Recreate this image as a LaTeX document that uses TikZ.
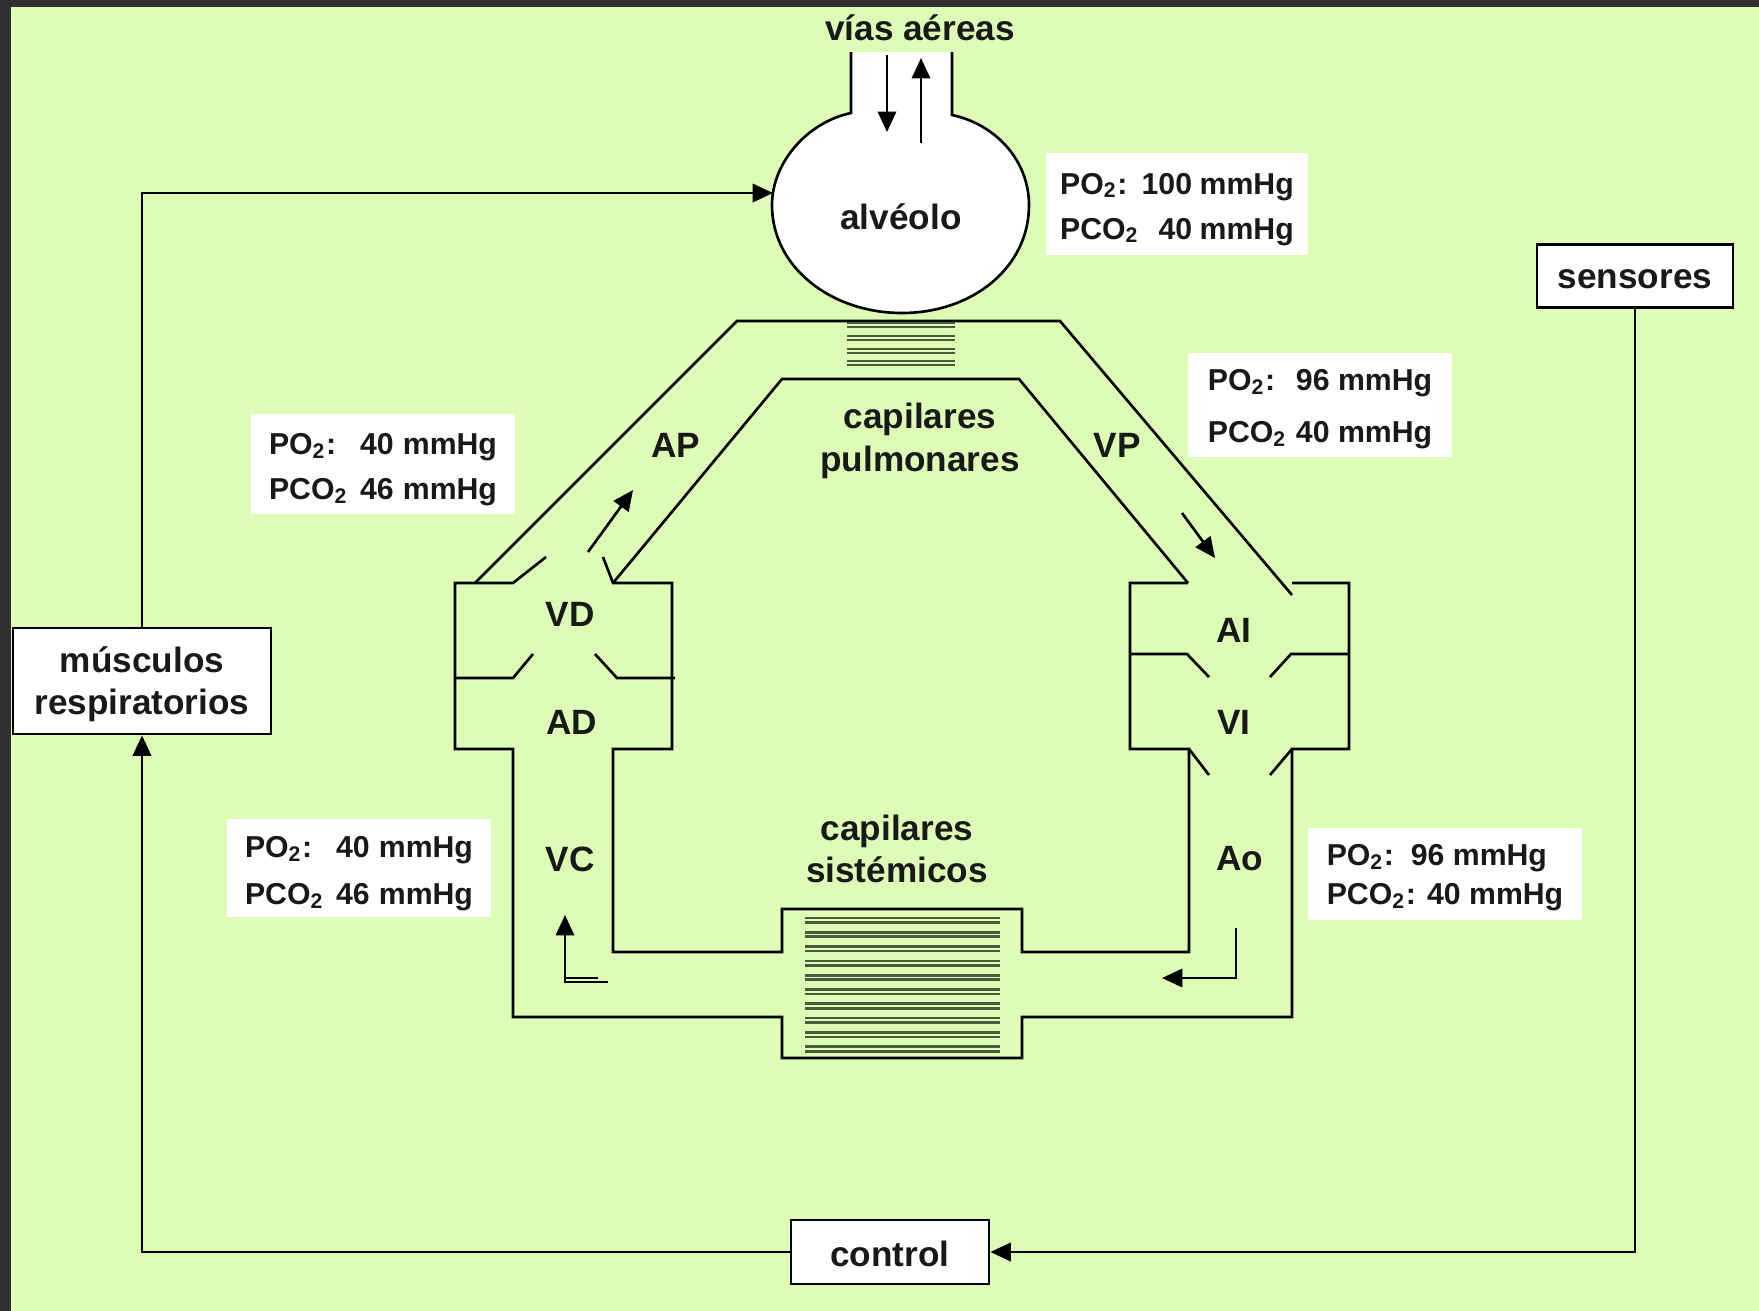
\documentclass[tikz,border=0pt]{standalone}
\usepackage{fontspec}
\setmainfont{Liberation Sans}
\usetikzlibrary{arrows.meta,shapes.geometric}
\definecolor{bg}{RGB}{221,253,183}
\definecolor{frame}{RGB}{48,48,48}
\definecolor{capline}{RGB}{75,90,58}
\begin{document}
\begin{tikzpicture}[x=0.01cm,y=-0.01cm,line width=0.75pt,
  big/.style={font=\fontsize{10}{12}\selectfont\bfseries, inner sep=0pt, text=black!90},
  box/.style={draw, fill=white, inner sep=0pt},
  boxtxt/.style={font=\fontsize{10}{12}\selectfont\bfseries, align=center, inner sep=0pt, text=black!90},
  infobox/.style={fill=white, inner sep=0pt},
  info/.style={font=\fontsize{8.6}{12.8}\selectfont\bfseries, inner sep=0pt, align=left, text=black!90},
  arr/.style={-{Triangle[length=5.8pt,width=5.2pt]}},
  capl/.style={draw=capline, line width=0.75pt},
]
% background and frame
\fill[frame] (0,0) rectangle (1759,1311);
\fill[bg] (11,7) rectangle (1759,1311);
\useasboundingbox (0,0) rectangle (1759,1311);

% control loop boxes
\node[box, minimum width=1.96cm, minimum height=0.63cm] (sens) at (1635,276) {};
\node[boxtxt] (senst) at ([yshift=-0.035cm]sens.center) {sensores};
\node[box, minimum width=1.98cm, minimum height=0.64cm] (ctrl) at (890,1252) {};
\node[boxtxt] (ctrlt) at ([yshift=-0.02cm]ctrl.center) {control};
\node[box, minimum width=2.58cm, minimum height=1.06cm] (musc) at (142,681) {};
\node[boxtxt] (musct) at ([yshift=-0.035cm]musc.center) {músculos\\respiratorios};

% alveolus
\draw[fill=white] (851,52) -- (851,113) .. controls (808,122) and (772,162) .. (772,205)
  .. controls (772,268) and (832,313) .. (902,313)
  .. controls (972,313) and (1029,268) .. (1029,205)
  .. controls (1029,160) and (995,124) .. (952,115) -- (952,52);
\coordinate (alvw) at (773,193);
\node[big] (alvtxt) at (901,217) {alvéolo};
\node[big] (vias) at (920,28) {vías aéreas};
\draw[arr] (887,55) -- (887,132);
\draw[arr] (921,143) -- (921,58);

% loop connectors
\draw[arr] (musc.north) |- (alvw);
\draw[arr] (sens.south) |- (ctrl.east);
\draw[arr] (ctrl.west) -| (musc.south);

% pulmonary circulation
\draw (475,583) -- (737,321) -- (1060,321) -- (1292,595);
\draw (613,583) -- (782,379) -- (1019,379) -- (1188,583);
\foreach \yy in {323,336,349,361} {
  \draw[capl] (847,\yy) -- (955,\yy);
  \draw[capl] (847,\yy+4) -- (955,\yy+4);
}

% heart and systemic circulation
\draw (546,557) -- (513,583) -- (455,583) -- (455,749) -- (513,749) -- (513,1017)
  -- (782,1017) -- (782,1058) -- (1022,1058) -- (1022,1017) -- (1292,1017)
  -- (1292,749) -- (1349,749) -- (1349,583) -- (1292,583);
\draw (603,557) -- (613,583) -- (672,583) -- (672,749) -- (613,749) -- (613,952)
  -- (782,952) -- (782,909) -- (1022,909) -- (1022,952) -- (1189,952)
  -- (1189,749) -- (1130,749) -- (1130,583) -- (1188,583);
% valves
\draw (455,678) -- (513,678) -- (533,654);
\draw (595,654) -- (617,678) -- (675,678);
\draw (1130,654) -- (1187,654) -- (1209,677);
\draw (1270,677) -- (1291,654) -- (1349,654);
\draw (1189,749) -- (1209,775);
\draw (1292,749) -- (1270,775);
% systemic capillaries
\foreach \k in {0,...,9} {
  \draw[capl] (805,918+14.3*\k) -- (1000,918+14.3*\k);
  \draw[capl] (805,922.5+14.3*\k) -- (1000,922.5+14.3*\k);
}

% flow arrows
\draw[arr] (588,552) -- (633,490);
\draw[arr] (1182,513) -- (1215,558);
\draw[arr] (608,982) -- (565,982) -- (565,915);
\draw[line width=0.5pt] (565,978) -- (598,978);
\draw[arr] (1236,928) -- (1236,978) -- (1162,978);

% labels
\node[big, align=center, font=\fontsize{10}{12.2}\selectfont\bfseries] (cpul) at (920,441) {capilares\\pulmonares};
\node[big, align=center, font=\fontsize{10}{12}\selectfont\bfseries] (csis) at (897,849) {capilares\\sistémicos};
\node[big] (ap) at (676,445) {AP};
\node[big] (vp) at (1117,445) {VP};
\node[big] (vd) at (570,614) {VD};
\node[big] (ad) at (572,722) {AD};
\node[big] (vc) at (570,859) {VC};
\node[big] (ai) at (1234,630) {AI};
\node[big] (vi) at (1234,722) {VI};
\node[big] (ao) at (1240,859) {Ao};

% info boxes
\node[infobox, minimum width=2.61cm, minimum height=1.01cm] (i1) at (1177,204) {};
\node[info] (t1) at ([yshift=-0.035cm]i1.center) {%
\begin{tabular}{@{}l@{\hspace{0.08em}}r@{\hspace{0.25em}}l@{}}
PO\textsubscript{2}: & 100 & mmHg\\
PCO\textsubscript{2} & 40 & mmHg
\end{tabular}};
\node[infobox, minimum width=2.63cm, minimum height=1.03cm] (i2) at (1320,405) {};
\node[info, font=\fontsize{8.6}{15}\selectfont\bfseries] (t2) at ([yshift=-0.01cm]i2.center) {%
\begin{tabular}{@{}l@{\hspace{0.3em}}r@{\hspace{0.28em}}l@{}}
PO\textsubscript{2}: & 96 & mmHg\\
PCO\textsubscript{2} & 40 & mmHg
\end{tabular}};
\node[infobox, minimum width=2.63cm, minimum height=0.99cm] (i3) at (383,464) {};
\node[info] (t3) at ([yshift=-0.04cm]i3.center) {%
\begin{tabular}{@{}l@{\hspace{0.4em}}r@{\hspace{0.3em}}l@{}}
PO\textsubscript{2}: & 40 & mmHg\\
PCO\textsubscript{2} & 46 & mmHg
\end{tabular}};
\node[infobox, minimum width=2.64cm, minimum height=0.98cm] (i4) at (359,868) {};
\node[info, font=\fontsize{8.6}{13.4}\selectfont\bfseries] (t4) at ([yshift=-0.035cm]i4.center) {%
\begin{tabular}{@{}l@{\hspace{0.4em}}r@{\hspace{0.3em}}l@{}}
PO\textsubscript{2}: & 40 & mmHg\\
PCO\textsubscript{2} & 46 & mmHg
\end{tabular}};
\node[infobox, minimum width=2.73cm, minimum height=0.92cm] (i5) at (1445,874) {};
\node[info, font=\fontsize{8.6}{11.1}\selectfont\bfseries] (t5) at ([yshift=-0.04cm]i5.center) {%
PO\textsubscript{2}:\ \ 96 mmHg\\
PCO\textsubscript{2}: 40 mmHg};
\end{tikzpicture}
\end{document}
